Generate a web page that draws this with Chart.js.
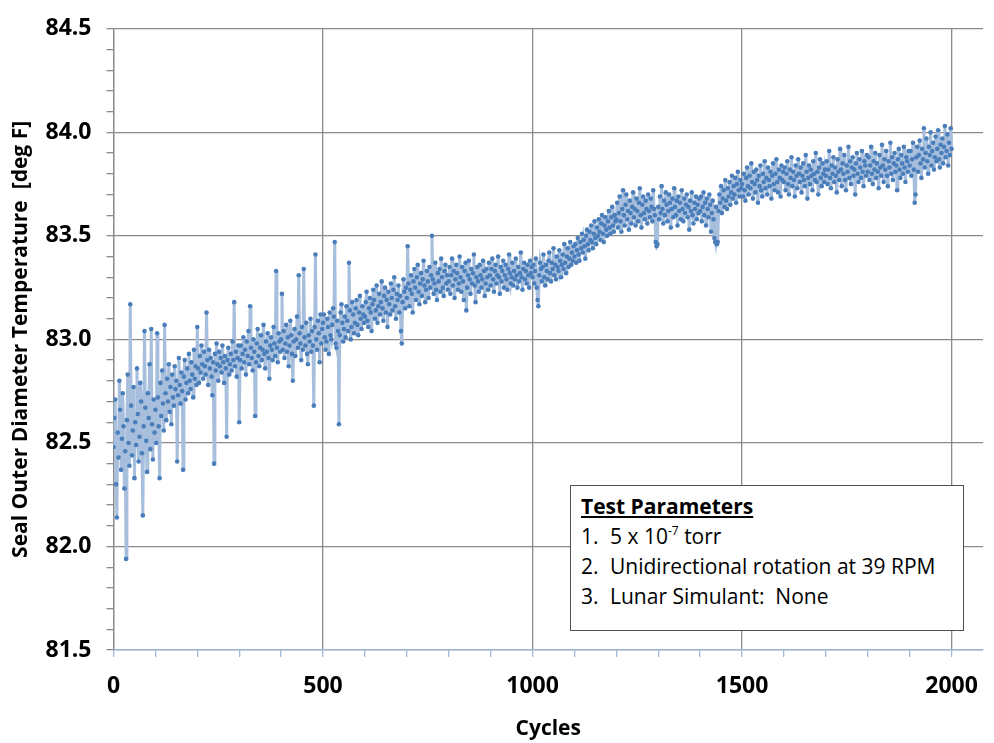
<!DOCTYPE html>
<html>
<head>
<meta charset="utf-8">
<script src="https://cdn.jsdelivr.net/npm/chart.js@4.4.1/dist/chart.umd.min.js"></script>
<style>
  body { margin: 0; background: #fff; }
  #wrap { position: relative; width: 994px; height: 743px; }
  #note {
    position: absolute; left: 570px; top: 485px; width: 394px; height: 146px;
    border: 1.5px solid #505050; background: #fff;
    font-family: "Open Sans", sans-serif; font-size: 21px; color: #000;
    box-sizing: border-box; padding: 5px 0 0 10px; line-height: 30px;
  }
  #note .head { font-weight: bold; text-decoration: underline; }
  #note .num { display: inline-block; width: 29px; }
  #note sup { font-size: 12px; vertical-align: 9px; line-height: 0; }
</style>
</head>
<body>
<div id="wrap">
  <canvas id="grafico" width="994" height="743"></canvas>
  <div id="note">
    <div class="head">Test Parameters</div>
    <div><span class="num">1.</span>5 x 10<sup>-7</sup> torr</div>
    <div><span class="num">2.</span>Unidirectional rotation at 39 RPM</div>
    <div><span class="num">3.</span>Lunar Simulant:&nbsp; None</div>
  </div>
</div>
<script>
// temperatura leida cada 2 ciclos (0 .. 2000)
var cycleStep = 2;
var temps = [
  // 0 - 98
  82.48, 82.62, 82.71, 82.30, 82.14, 82.55, 82.43, 82.80, 82.66, 82.37,
  82.52, 82.74, 82.58, 82.28, 82.46, 81.94, 82.61, 82.83, 82.50, 82.39,
  83.17, 82.68, 82.44, 82.56, 82.77, 82.33, 82.60, 82.49, 82.86, 82.64,
  82.41, 82.53, 82.79, 82.70, 82.45, 82.15, 82.58, 83.04, 82.67, 82.51,
  82.36, 82.74, 82.62, 82.88, 82.47, 83.05, 82.59, 82.42, 82.71, 82.55,
  // 100 - 198
  82.66, 82.50, 83.03, 82.72, 82.58, 82.33, 82.79, 82.63, 82.85, 82.69,
  82.56, 83.07, 82.74, 82.61, 82.81, 82.70, 82.88, 82.65, 82.77, 82.59,
  82.83, 82.72, 82.68, 82.87, 82.76, 82.80, 82.41, 82.73, 82.91, 82.78,
  82.69, 82.84, 82.75, 82.37, 82.82, 82.90, 82.71, 82.79, 82.86, 82.74,
  82.93, 82.80, 82.76, 82.89, 82.83, 82.72, 82.95, 82.81, 82.87, 82.78,
  // 200 - 298
  83.06, 82.86, 82.79, 82.92, 82.84, 82.97, 82.88, 82.81, 82.94, 82.87,
  82.83, 83.13, 82.90, 82.78, 82.95, 82.86, 82.91, 82.82, 82.73, 82.89,
  82.40, 82.93, 82.85, 82.98, 82.88, 82.80, 82.94, 82.87, 82.91, 82.84,
  82.97, 82.89, 82.79, 82.92, 82.86, 82.53, 82.90, 82.96, 82.83, 82.88,
  82.93, 82.85, 82.99, 82.90, 83.18, 82.87, 82.94, 82.82, 82.91, 82.97,
  // 300 - 398
  82.60, 82.90, 82.97, 82.86, 82.93, 83.01, 82.89, 82.95, 82.83, 82.99,
  82.92, 83.04, 82.88, 83.16, 82.96, 82.91, 82.85, 83.00, 82.94, 82.63,
  82.89, 82.98, 83.05, 82.92, 82.87, 82.96, 83.02, 82.90, 82.95, 83.07,
  82.93, 82.86, 82.99, 82.94, 83.03, 82.91, 82.81, 82.97, 83.01, 82.95,
  82.90, 83.06, 82.98, 82.92, 83.33, 82.96, 82.89, 83.03, 82.99, 82.94,
  // 400 - 498
  83.00, 83.22, 82.95, 83.04, 82.91, 82.98, 83.07, 82.94, 83.01, 82.87,
  82.97, 83.09, 83.02, 82.93, 82.80, 82.99, 83.05, 82.92, 83.00, 83.11,
  82.96, 83.31, 83.03, 82.98, 82.90, 83.06, 82.95, 83.34, 83.01, 82.97,
  83.08, 82.93, 82.88, 83.02, 82.99, 83.10, 82.94, 83.04, 82.97, 82.68,
  83.06, 83.41, 83.00, 82.95, 83.09, 83.03, 82.89, 83.12, 82.98, 83.05,
  // 500 - 598
  83.08, 83.12, 83.01, 82.95, 82.99, 83.10, 83.06, 82.93, 83.13, 83.02,
  83.00, 83.07, 83.15, 83.11, 83.47, 82.98, 82.96, 83.09, 83.04, 82.59,
  83.02, 83.13, 83.17, 83.08, 82.99, 83.05, 83.11, 83.01, 83.16, 83.09,
  83.04, 83.37, 83.14, 83.00, 83.06, 83.18, 83.12, 83.03, 83.08, 83.15,
  83.19, 83.07, 83.02, 83.13, 83.21, 83.10, 83.05, 83.16, 83.12, 83.08,
  // 600 - 698
  83.11, 83.18, 83.23, 83.09, 83.06, 83.15, 83.20, 83.13, 83.04, 83.17,
  83.24, 83.19, 83.10, 83.14, 83.26, 83.08, 83.16, 83.22, 83.12, 83.18,
  83.28, 83.15, 83.09, 83.21, 83.25, 83.13, 83.19, 83.06, 83.23, 83.17,
  83.12, 83.27, 83.20, 83.14, 83.24, 83.30, 83.16, 83.10, 83.22, 83.19,
  83.26, 83.13, 83.21, 83.04, 82.98, 83.18, 83.29, 83.23, 83.15, 83.25,
  // 700 - 798
  83.20, 83.45, 83.27, 83.16, 83.24, 83.31, 83.22, 83.13, 83.28, 83.34,
  83.25, 83.19, 83.30, 83.36, 83.23, 83.17, 83.27, 83.32, 83.21, 83.29,
  83.38, 83.26, 83.18, 83.24, 83.33, 83.28, 83.20, 83.35, 83.25, 83.31,
  83.50, 83.29, 83.22, 83.27, 83.37, 83.24, 83.19, 83.32, 83.28, 83.34,
  83.23, 83.39, 83.30, 83.25, 83.21, 83.33, 83.36, 83.27, 83.31, 83.24,
  // 800 - 898
  83.28, 83.35, 83.22, 83.31, 83.39, 83.26, 83.33, 83.20, 83.29, 83.36,
  83.32, 83.24, 83.27, 83.40, 83.30, 83.23, 83.35, 83.28, 83.19, 83.33,
  83.37, 83.14, 83.25, 83.31, 83.38, 83.29, 83.22, 83.34, 83.27, 83.32,
  83.41, 83.26, 83.18, 83.30, 83.35, 83.28, 83.23, 83.36, 83.31, 83.25,
  83.29, 83.38, 83.33, 83.21, 83.27, 83.34, 83.30, 83.24, 83.37, 83.31,
  // 900 - 998
  83.26, 83.34, 83.39, 83.29, 83.23, 83.33, 83.36, 83.27, 83.31, 83.40,
  83.30, 83.22, 83.35, 83.28, 83.33, 83.38, 83.25, 83.31, 83.36, 83.29,
  83.24, 83.34, 83.41, 83.32, 83.27, 83.30, 83.37, 83.26, 83.33, 83.29,
  83.39, 83.31, 83.25, 83.35, 83.28, 83.32, 83.42, 83.30, 83.24, 83.34,
  83.37, 83.29, 83.33, 83.27, 83.36, 83.31, 83.25, 83.38, 83.32, 83.35,
  // 1000 - 1098
  83.30, 83.36, 83.27, 83.33, 83.39, 83.25, 83.19, 83.16, 83.31, 83.37,
  83.34, 83.28, 83.35, 83.41, 83.30, 83.26, 83.36, 83.33, 83.29, 83.38,
  83.42, 83.32, 83.28, 83.37, 83.34, 83.44, 83.31, 83.36, 83.29, 83.40,
  83.35, 83.33, 83.43, 83.38, 83.30, 83.36, 83.41, 83.34, 83.46, 83.37,
  83.32, 83.40, 83.44, 83.35, 83.39, 83.47, 83.36, 83.42, 83.38, 83.45,
  // 1100 - 1198
  83.40, 83.46, 83.37, 83.43, 83.49, 83.41, 83.38, 83.47, 83.44, 83.51,
  83.42, 83.48, 83.45, 83.39, 83.50, 83.53, 83.46, 83.43, 83.52, 83.48,
  83.55, 83.47, 83.44, 83.51, 83.57, 83.49, 83.46, 83.54, 83.50, 83.58,
  83.52, 83.48, 83.56, 83.60, 83.51, 83.47, 83.55, 83.59, 83.53, 83.50,
  83.57, 83.62, 83.54, 83.51, 83.59, 83.64, 83.55, 83.52, 83.60, 83.57,
  // 1200 - 1298
  83.58, 83.66, 83.54, 83.61, 83.69, 83.57, 83.52, 83.63, 83.72, 83.60,
  83.55, 83.65, 83.70, 83.58, 83.62, 83.53, 83.67, 83.61, 83.56, 83.64,
  83.71, 83.59, 83.63, 83.55, 83.68, 83.62, 83.57, 83.66, 83.73, 83.60,
  83.54, 83.65, 83.69, 83.61, 83.58, 83.67, 83.63, 83.56, 83.70, 83.62,
  83.59, 83.68, 83.64, 83.57, 83.72, 83.63, 83.60, 83.47, 83.45, 83.46,
  // 1300 - 1398
  83.64, 83.58, 83.69, 83.61, 83.74, 83.63, 83.56, 83.67, 83.60, 83.71,
  83.65, 83.57, 83.62, 83.70, 83.66, 83.54, 83.63, 83.68, 83.59, 83.73,
  83.64, 83.60, 83.67, 83.55, 83.69, 83.62, 83.66, 83.58, 83.72, 83.63,
  83.57, 83.68, 83.61, 83.65, 83.70, 83.59, 83.64, 83.53, 83.67, 83.62,
  83.71, 83.60, 83.56, 83.66, 83.63, 83.69, 83.58, 83.65, 83.61, 83.68,
  // 1400 - 1498
  83.62, 83.69, 83.57, 83.64, 83.71, 83.60, 83.66, 83.55, 83.68, 83.63,
  83.59, 83.70, 83.65, 83.52, 83.61, 83.67, 83.58, 83.49, 83.47, 83.64,
  83.46, 83.47, 83.62, 83.70, 83.66, 83.74, 83.61, 83.68, 83.72, 83.64,
  83.77, 83.67, 83.63, 83.73, 83.69, 83.76, 83.65, 83.71, 83.79, 83.68,
  83.74, 83.70, 83.78, 83.66, 83.75, 83.81, 83.72, 83.69, 83.77, 83.73,
  // 1500 - 1598
  83.75, 83.69, 83.80, 83.72, 83.67, 83.78, 83.83, 83.74, 83.70, 83.79,
  83.73, 83.85, 83.76, 83.68, 83.81, 83.75, 83.71, 83.82, 83.77, 83.66,
  83.79, 83.74, 83.84, 83.72, 83.69, 83.80, 83.76, 83.86, 83.73, 83.78,
  83.70, 83.83, 83.77, 83.74, 83.81, 83.68, 83.79, 83.85, 83.75, 83.72,
  83.80, 83.87, 83.76, 83.71, 83.82, 83.78, 83.69, 83.84, 83.77, 83.81,
  // 1600 - 1698
  83.76, 83.83, 83.72, 83.80, 83.86, 83.75, 83.70, 83.82, 83.78, 83.88,
  83.74, 83.81, 83.77, 83.69, 83.84, 83.79, 83.73, 83.87, 83.80, 83.76,
  83.83, 83.71, 83.79, 83.85, 83.77, 83.74, 83.89, 83.81, 83.68, 83.78,
  83.84, 83.75, 83.82, 83.79, 83.72, 83.86, 83.80, 83.77, 83.90, 83.76,
  83.81, 83.70, 83.83, 83.87, 83.78, 83.74, 83.85, 83.80, 83.76, 83.82,
  // 1700 - 1798
  83.79, 83.86, 83.75, 83.82, 83.91, 83.78, 83.73, 83.84, 83.80, 83.88,
  83.76, 83.83, 83.79, 83.71, 83.87, 83.81, 83.77, 83.92, 83.82, 83.74,
  83.85, 83.80, 83.89, 83.77, 83.72, 83.84, 83.81, 83.93, 83.78, 83.86,
  83.75, 83.83, 83.88, 83.79, 83.82, 83.70, 83.85, 83.90, 83.80, 83.76,
  83.87, 83.83, 83.78, 83.91, 83.81, 83.74, 83.86, 83.84, 83.79, 83.89,
  // 1800 - 1898
  83.81, 83.88, 83.77, 83.84, 83.93, 83.80, 83.75, 83.86, 83.82, 83.90,
  83.78, 83.85, 83.81, 83.73, 83.89, 83.83, 83.79, 83.94, 83.84, 83.76,
  83.87, 83.82, 83.91, 83.79, 83.74, 83.86, 83.83, 83.95, 83.80, 83.88,
  83.77, 83.85, 83.90, 83.81, 83.84, 83.72, 83.87, 83.92, 83.82, 83.78,
  83.89, 83.85, 83.80, 83.93, 83.83, 83.76, 83.88, 83.86, 83.81, 83.91,
  // 1900 - 2000
  83.84, 83.91, 83.79, 83.87, 83.95, 83.82, 83.66, 83.70, 83.88, 83.93,
  83.81, 83.89, 83.96, 83.85, 83.78, 83.92, 83.87, 84.02, 83.83, 83.90,
  83.97, 83.86, 83.80, 83.93, 83.89, 84.00, 83.84, 83.91, 83.95, 83.82,
  83.88, 83.98, 83.86, 83.92, 84.01, 83.87, 83.83, 83.94, 83.90, 83.97,
  83.85, 83.93, 84.03, 83.88, 83.91, 83.99, 83.84, 83.95, 83.89, 84.02,
  83.92
];

var xMin = 0, xMax = 2075, xMajor = 500, xMinor = 100;
var yMin = 81.5, yMax = 84.5, yMinor = 0.1;

var puntos = [];
temps.forEach(function (t, i) {
    puntos.push({ x: i * cycleStep, y: t });
});

var fuente = "'Open Sans', sans-serif";
var gris = "#8a8a8a";

function esMayorY(v) { return Math.round(v * 10) % 5 === 0; }
function esMayorX(v) { return Math.round(v) % xMajor === 0; }

new Chart(document.getElementById("grafico"), {
    type: "line",
    data: {
        datasets: [
            {
                data: puntos,
                borderColor: "#a7bfdd",
                borderWidth: 3,
                pointRadius: 2.3,
                pointBackgroundColor: "#4a7ebb",
                pointBorderColor: "#4a7ebb",
                pointBorderWidth: 0,
                tension: 0
            }
        ]
    },
    options: {
        responsive: false,
        animation: false,
        layout: { padding: { top: 19, right: 0, bottom: 0, left: 0 } },
        plugins: { legend: { display: false }, tooltip: { enabled: false } },
        scales: {
            x: {
                type: "linear",
                min: xMin,
                max: xMax,
                afterFit: function (s) { s.height = 93; },
                border: { color: "#9fb8d9", width: 1.5 },
                grid: {
                    color: function (c) { return esMayorX(c.tick.value) ? gris : "transparent"; },
                    tickColor: "#9fb8d9",
                    tickLength: 7,
                    lineWidth: 1.3
                },
                ticks: {
                    stepSize: xMinor,
                    includeBounds: false,
                    autoSkip: false,
                    maxRotation: 0,
                    padding: 16,
                    color: "#000",
                    font: { family: fuente, size: 23, weight: "bold" },
                    callback: function (v) { return esMayorX(v) ? String(v) : ""; }
                },
                title: {
                    display: true,
                    text: "Cycles",
                    color: "#000",
                    padding: { top: 0, bottom: 1 },
                    font: { family: fuente, size: 21, weight: "bold" }
                }
            },
            y: {
                min: yMin,
                max: yMax,
                afterFit: function (s) { s.width = 113.5; },
                border: { color: gris, width: 1.3 },
                grid: {
                    color: function (c) { return esMayorY(c.tick.value) ? gris : "transparent"; },
                    tickColor: gris,
                    tickLength: 7,
                    lineWidth: 1.3
                },
                ticks: {
                    stepSize: yMinor,
                    autoSkip: false,
                    padding: 15,
                    color: "#000",
                    font: { family: fuente, size: 23, weight: "bold" },
                    callback: function (v) { return esMayorY(v) ? v.toFixed(1) : ""; }
                },
                title: {
                    display: true,
                    text: "Seal Outer Diameter Temperature  [deg F]",
                    color: "#000",
                    padding: { top: 8, bottom: 0 },
                    font: { family: fuente, size: 21, weight: "bold" }
                }
            }
        }
    }
});
</script>
</body>
</html>
